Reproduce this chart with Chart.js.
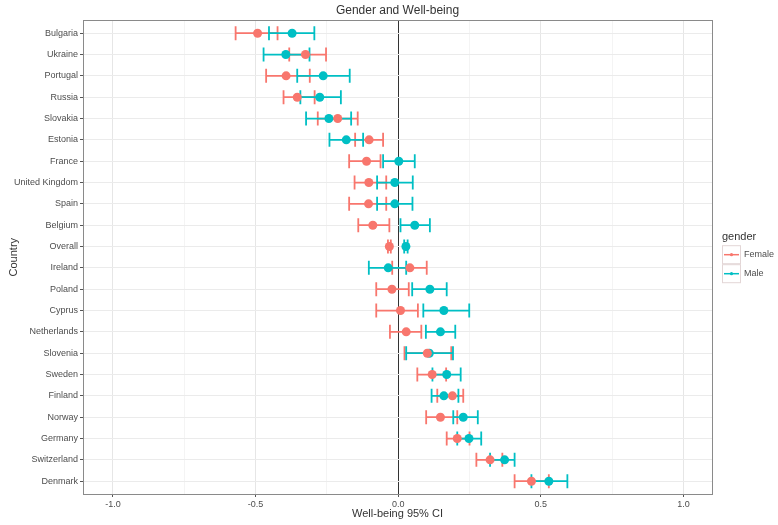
<!DOCTYPE html>
<html>
<head>
<meta charset="utf-8">
<title>Gender and Well-being</title>
<script src="https://cdn.jsdelivr.net/npm/chart.js@4.4.1/dist/chart.umd.min.js"></script>
<style>
  html, body { margin: 0; padding: 0; background: #fff; }
  #wrap { width: 778px; height: 525px; }
</style>
</head>
<body>
<div id="wrap"><canvas id="chart" width="778" height="525"></canvas></div>
<script>
// countries, top to bottom
var countries = ['Bulgaria', 'Ukraine', 'Portugal', 'Russia', 'Slovakia', 'Estonia', 'France',
  'United Kingdom', 'Spain', 'Belgium', 'Overall', 'Ireland', 'Poland', 'Cyprus', 'Netherlands',
  'Slovenia', 'Sweden', 'Finland', 'Norway', 'Germany', 'Switzerland', 'Denmark'];

// well-being estimate and 95% CI
var femaleMean = [-0.493, -0.325, -0.393, -0.354, -0.212, -0.102, -0.111, -0.103, -0.104, -0.089, -0.031,
  0.041, -0.022, 0.008, 0.028, 0.102, 0.119, 0.190, 0.148, 0.207, 0.322, 0.467];
var femaleLow = [-0.570, -0.382, -0.463, -0.402, -0.282, -0.151, -0.172, -0.153, -0.172, -0.140, -0.036,
  -0.021, -0.077, -0.077, -0.029, 0.022, 0.067, 0.137, 0.098, 0.170, 0.274, 0.408];
var femaleHigh = [-0.423, -0.253, -0.310, -0.293, -0.142, -0.053, -0.062, -0.042, -0.042, -0.031, -0.026,
  0.100, 0.037, 0.069, 0.081, 0.186, 0.168, 0.228, 0.207, 0.250, 0.365, 0.528];

var maleMean = [-0.372, -0.394, -0.263, -0.275, -0.243, -0.182, 0.002, -0.012, -0.012, 0.058, 0.027,
  -0.035, 0.111, 0.160, 0.148, 0.109, 0.170, 0.160, 0.228, 0.248, 0.373, 0.528];
var maleLow = [-0.453, -0.472, -0.354, -0.343, -0.323, -0.241, -0.053, -0.074, -0.074, 0.008, 0.021,
  -0.103, 0.049, 0.088, 0.097, 0.028, 0.120, 0.117, 0.193, 0.207, 0.322, 0.467];
var maleHigh = [-0.294, -0.311, -0.170, -0.201, -0.165, -0.123, 0.058, 0.051, 0.050, 0.111, 0.033,
  0.028, 0.170, 0.249, 0.200, 0.192, 0.219, 0.211, 0.279, 0.291, 0.408, 0.593];

var xTicks = [-1, -0.75, -0.5, -0.25, 0, 0.25, 0.5, 0.75, 1];
var majorTicks = [-1, -0.5, 0, 0.5, 1];

var FEMALE = '#F8766D';
var MALE = '#00BFC4';
var FONT = "'Liberation Sans', Arial, sans-serif";

function points(mean, low, high) {
  return mean.map(function(m, i) {
    return { x: m, y: i, low: low[i], high: high[i] };
  });
}

function isMajor(v) {
  return majorTicks.some(function(t) { return Math.abs(t - v) < 1e-9; });
}

// error bars go under the points
var errorBars = {
  id: 'errorBars',
  beforeDatasetsDraw: function(chart) {
    var ctx = chart.ctx;
    var xs = chart.scales.x, ys = chart.scales.y;
    ctx.save();
    chart.data.datasets.forEach(function(ds) {
      ctx.strokeStyle = ds.backgroundColor;
      ctx.lineWidth = 1.8;
      ds.data.forEach(function(d) {
        var y = ys.getPixelForValue(d.y);
        var x1 = xs.getPixelForValue(d.low);
        var x2 = xs.getPixelForValue(d.high);
        ctx.beginPath();
        ctx.moveTo(x1, y); ctx.lineTo(x2, y);
        ctx.moveTo(x1, y - 7); ctx.lineTo(x1, y + 7);
        ctx.moveTo(x2, y - 7); ctx.lineTo(x2, y + 7);
        ctx.stroke();
      });
    });
    ctx.restore();
  }
};

// panel border + ggplot style legend on the right
var panelAndLegend = {
  id: 'panelAndLegend',
  afterDraw: function(chart) {
    var ctx = chart.ctx;
    var a = chart.chartArea;
    ctx.save();
    ctx.strokeStyle = '#8a8a8a';
    ctx.lineWidth = 1;
    ctx.strokeRect(Math.round(a.left) + 0.5, Math.round(a.top) + 0.5,
      Math.round(a.right - a.left), Math.round(a.bottom - a.top));

    var lx = a.right + 10;
    var cy = (a.top + a.bottom) / 2;
    ctx.fillStyle = '#333';
    ctx.font = '11px ' + FONT;
    ctx.textBaseline = 'middle';
    ctx.textAlign = 'left';
    ctx.fillText('gender', lx, cy - 20);

    chart.data.datasets.forEach(function(ds, i) {
      var ky = cy - 12 + i * 19;
      ctx.strokeStyle = '#e3d6d6';
      ctx.lineWidth = 1;
      ctx.strokeRect(lx + 0.5, ky + 0.5, 18, 18);
      ctx.strokeStyle = ds.backgroundColor;
      ctx.lineWidth = 1.5;
      ctx.beginPath();
      ctx.moveTo(lx + 2, ky + 9.5); ctx.lineTo(lx + 17, ky + 9.5);
      ctx.stroke();
      ctx.fillStyle = ds.backgroundColor;
      ctx.beginPath();
      ctx.arc(lx + 9.5, ky + 9.5, 1.6, 0, Math.PI * 2);
      ctx.fill();
      ctx.fillStyle = '#4d4d4d';
      ctx.font = '9px ' + FONT;
      ctx.fillText(ds.label, lx + 22, ky + 9.5);
    });
    ctx.restore();
  }
};

var ctx = document.getElementById('chart').getContext('2d');
var chart = new Chart(ctx, {
  type: 'scatter',
  data: {
    datasets: [
      { label: 'Female', data: points(femaleMean, femaleLow, femaleHigh),
        backgroundColor: FEMALE, borderColor: FEMALE, pointRadius: 4.5, pointBorderWidth: 0 },
      { label: 'Male', data: points(maleMean, maleLow, maleHigh),
        backgroundColor: MALE, borderColor: MALE, pointRadius: 4.5, pointBorderWidth: 0 }
    ]
  },
  options: {
    responsive: false,
    animation: false,
    events: [],
    layout: { padding: { top: 0, right: 66, bottom: 0, left: 0 } },
    plugins: {
      legend: { display: false },
      tooltip: { enabled: false },
      title: {
        display: true,
        text: 'Gender and Well-being',
        fullSize: false,
        color: '#333',
        font: { family: FONT, size: 12, weight: 'normal', lineHeight: 1.2 },
        padding: { top: 3, bottom: 3 }
      }
    },
    scales: {
      x: {
        type: 'linear',
        min: -1.105,
        max: 1.10,
        afterBuildTicks: function(scale) {
          scale.ticks = xTicks.map(function(v) { return { value: v }; });
        },
        afterFit: function(scale) { scale.height = 31; },
        ticks: {
          autoSkip: false,
          maxRotation: 0,
          padding: 2,
          color: '#4d4d4d',
          font: { family: FONT, size: 9 },
          callback: function(v) { return isMajor(v) ? v.toFixed(1) : ''; }
        },
        grid: {
          tickLength: 3,
          color: function(c) {
            var v = c.tick ? c.tick.value : 1;
            if (Math.abs(v) < 1e-9) return '#333';
            return isMajor(v) ? '#e6e6e6' : '#f4f4f4';
          },
          tickColor: function(c) {
            var v = c.tick ? c.tick.value : 1;
            return isMajor(v) ? '#555' : 'rgba(0,0,0,0)';
          },
          lineWidth: 1
        },
        border: { display: false },
        title: {
          display: true,
          text: 'Well-being 95% CI',
          color: '#333',
          font: { family: FONT, size: 11 },
          padding: { top: 0, bottom: 4 }
        }
      },
      y: {
        type: 'linear',
        reverse: true,
        min: -0.6,
        max: countries.length - 1 + 0.6,
        afterBuildTicks: function(scale) {
          scale.ticks = countries.map(function(c, i) { return { value: i }; });
        },
        afterFit: function(scale) { scale.width = 83; },
        ticks: {
          autoSkip: false,
          padding: 2,
          color: '#4d4d4d',
          font: { family: FONT, size: 9 },
          callback: function(v) { return countries[v]; }
        },
        grid: { color: '#ebebeb', tickColor: '#555', tickLength: 3, lineWidth: 1 },
        border: { display: false },
        title: {
          display: true,
          text: 'Country',
          color: '#333',
          font: { family: FONT, size: 11 },
          padding: { top: 7, bottom: 0 }
        }
      }
    }
  },
  plugins: [errorBars, panelAndLegend]
});
</script>
</body>
</html>
